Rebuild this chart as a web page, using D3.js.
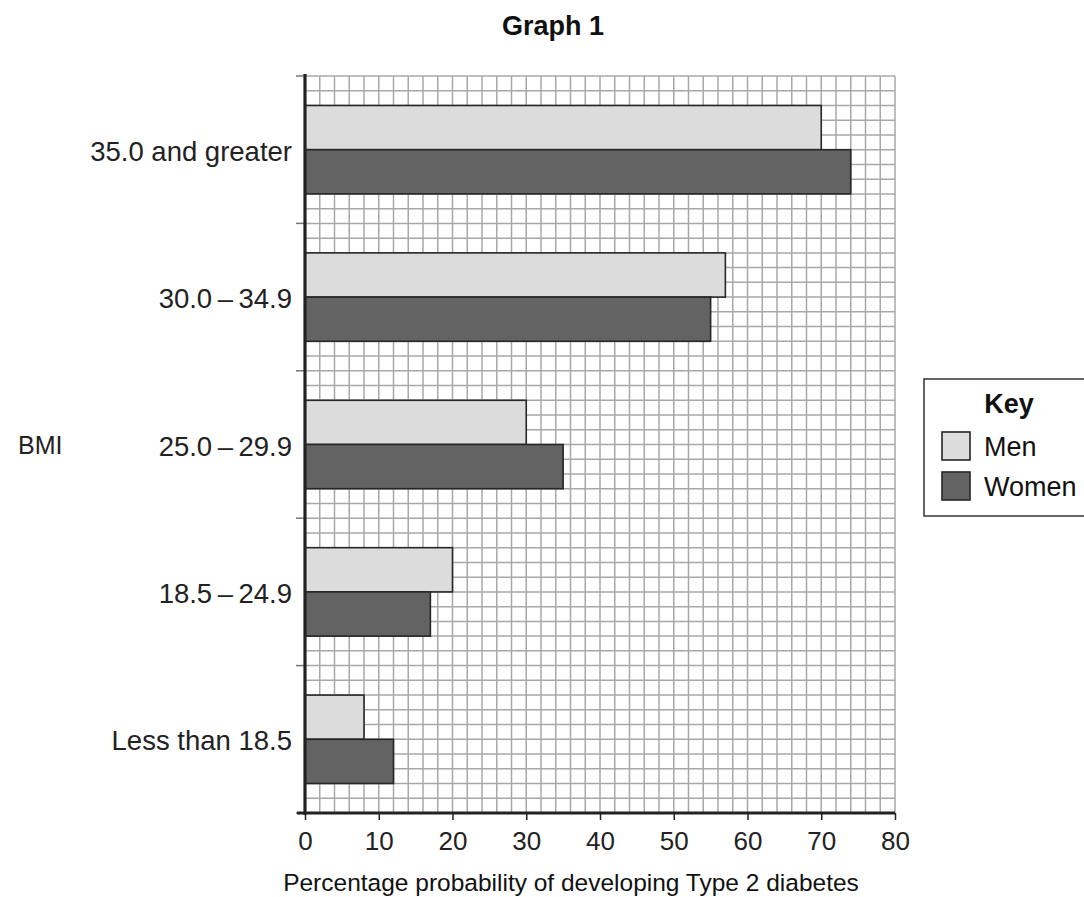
<!DOCTYPE html>
<html><head><meta charset="utf-8">
<script src="https://cdn.jsdelivr.net/npm/d3@7"></script>
<style>body{margin:0;background:#fff;}text{font-family:"Liberation Sans",Arial,sans-serif;}</style>
</head><body>
<script>
const categories = ["35.0 and greater", "30.0\u2009\u2013\u200934.9", "25.0\u2009\u2013\u200929.9", "18.5\u2009\u2013\u200924.9", "Less than 18.5"];
const men =   [70, 57, 30, 20, 8];
const women = [74, 55, 35, 17, 12];
const xTicks = [0, 10, 20, 30, 40, 50, 60, 70, 80];
const seriesNames = ["Men", "Women"];
const seriesColors = ["#dcdcdc", "#636363"];

const W = 1084, H = 897;
const FONT = '"Liberation Sans",Arial,sans-serif';
const svg = d3.select("body").append("svg").attr("width", W).attr("height", H);
const L = 305, R = 895, T = 76, B = 813;
const x = d3.scaleLinear().domain([0, 80]).range([L, R]);
// vertical grid units: 5 categories x 10 units (grid cell = 1 unit)
const y = d3.scaleLinear().domain([0, 50]).range([T, B]);

// grid
const g = svg.append("g");
for (let v = 0; v <= 80; v += 2) {
  g.append("line").attr("x1", x(v)).attr("x2", x(v)).attr("y1", T).attr("y2", B)
    .attr("stroke", "#a8a8a8").attr("stroke-width", 1.5);
}
for (let v = 0; v <= 50; v += 1) {
  g.append("line").attr("x1", L).attr("x2", R).attr("y1", y(v)).attr("y2", y(v))
    .attr("stroke", "#a8a8a8").attr("stroke-width", 1.5);
}

// bars
categories.forEach((c, i) => {
  const base = i * 10;
  [men[i], women[i]].forEach((v, s) => {
    svg.append("rect")
      .attr("x", x(0)).attr("width", x(v) - x(0))
      .attr("y", y(base + 2 + s * 3)).attr("height", y(3) - y(0))
      .attr("fill", seriesColors[s]).attr("stroke", "#262626").attr("stroke-width", 1.6);
  });
  svg.append("text").attr("x", 292).attr("y", y(base + 5) + 11)
    .attr("text-anchor", "end").attr("font-size", 27.5).attr("fill", "#222").text(c);
});

// y ticks at band boundaries
for (let v = 0; v <= 50; v += 10) {
  svg.append("line").attr("x1", 296).attr("x2", L).attr("y1", y(v)).attr("y2", y(v))
    .attr("stroke", "#777").attr("stroke-width", 1.5);
}

// axes
svg.append("line").attr("x1", L).attr("x2", L).attr("y1", T - 2).attr("y2", B + 2)
  .attr("stroke", "#222").attr("stroke-width", 3.2);
const xa = svg.append("g").attr("transform", `translate(0,${B})`)
  .call(d3.axisBottom(x).tickValues(xTicks).tickSize(7).tickFormat(d3.format("d")));
xa.select(".domain").attr("stroke", "#222").attr("stroke-width", 3).attr("d", `M${L - 8},0H${R}`);
xa.selectAll(".tick line").attr("stroke", "#222").attr("stroke-width", 1.5);
xa.selectAll(".tick text").attr("font-size", 26).attr("fill", "#222")
  .attr("y", 37).attr("dy", null).style("font-family", FONT);

// titles
svg.append("text").attr("x", 553).attr("y", 35).attr("text-anchor", "middle")
  .attr("font-size", 27).attr("font-weight", "bold").attr("fill", "#111").text("Graph 1");
svg.append("text").attr("x", 571).attr("y", 891).attr("text-anchor", "middle")
  .attr("font-size", 24.5).attr("fill", "#111").text("Percentage probability of developing Type 2 diabetes");
svg.append("text").attr("x", 18).attr("y", 454)
  .attr("font-size", 25).attr("fill", "#222").text("BMI");

// legend
const lg = svg.append("g");
lg.append("rect").attr("x", 924).attr("y", 379).attr("width", 170).attr("height", 137)
  .attr("fill", "#fff").attr("stroke", "#333").attr("stroke-width", 1.5);
lg.append("text").attr("x", 1009).attr("y", 413).attr("text-anchor", "middle")
  .attr("font-size", 27).attr("font-weight", "bold").attr("fill", "#111").text("Key");
seriesNames.forEach((n, i) => {
  lg.append("rect").attr("x", 942).attr("y", 432 + i * 40).attr("width", 28).attr("height", 28)
    .attr("fill", seriesColors[i]).attr("stroke", "#262626").attr("stroke-width", 1.6);
  lg.append("text").attr("x", 984).attr("y", 456 + i * 40)
    .attr("font-size", 27).attr("fill", "#111").text(n);
});
</script>
</body></html>
